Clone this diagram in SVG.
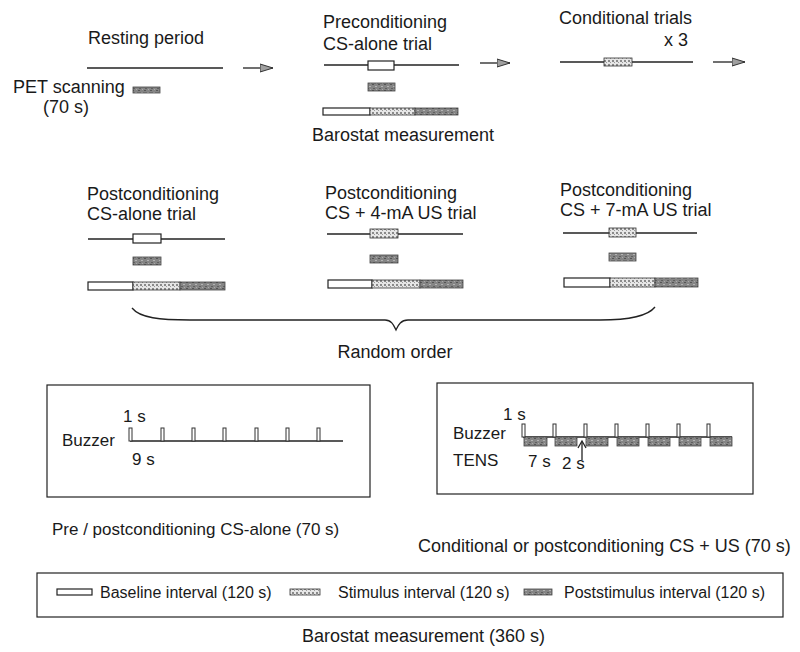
<svg xmlns="http://www.w3.org/2000/svg" width="800" height="652" viewBox="0 0 800 652">
<defs>
<pattern id="stip" width="4" height="4" patternUnits="userSpaceOnUse">
<rect width="4" height="4" fill="#e6e6e6"/>
<rect x="0" y="0" width="2" height="2" fill="#8a8a8a"/>
<rect x="2" y="2" width="1" height="1" fill="#9a9a9a"/>
</pattern>
<pattern id="dark" width="6" height="6" patternUnits="userSpaceOnUse">
<rect width="6" height="6" fill="#858585"/>
<rect x="0" y="0" width="2" height="1" fill="#555"/>
<rect x="3" y="2" width="2" height="1" fill="#b4b4b4"/>
<rect x="1" y="4" width="2" height="1" fill="#606060"/>
<rect x="4" y="5" width="1" height="1" fill="#aaa"/>
</pattern>
<marker id="ah" viewBox="0 0 14 10" refX="13" refY="5" markerWidth="14" markerHeight="10" markerUnits="userSpaceOnUse" orient="auto">
<path d="M0,1 L13,5 L0,9 Z" fill="#a0a0a0" stroke="#333" stroke-width="1"/>
</marker>
</defs>
<style>
text{font-family:"Liberation Sans",Arial,sans-serif;fill:#1a1a1a}
.t{font-size:18px}
.b{font-size:17px}
.s{font-size:16px}
.ln{stroke:#222;stroke-width:1.3;fill:none}
.ob{fill:#fff;stroke:#222;stroke-width:1.2}
.st{fill:url(#stip);stroke:#333;stroke-width:0.8}
.dk{fill:url(#dark);stroke:#444;stroke-width:0.8}
.fr{fill:none;stroke:#222;stroke-width:1.2}
.pu{fill:#fff;stroke:#333;stroke-width:1}
</style>

<g id="resting">
<text class="t" x="88" y="44">Resting period</text>
<line class="ln" x1="87" y1="68" x2="223" y2="68"/>
<text class="t" x="13" y="93">PET scanning</text>
<rect class="dk" x="133" y="87" width="27" height="6"/>
<text class="t" x="43" y="113">(70 s)</text>
</g>

<g id="precond">
<text class="t" x="323" y="28">Preconditioning</text>
<text class="t" x="323" y="50">CS-alone trial</text>
<line class="ln" x1="324" y1="65" x2="459" y2="65"/>
<rect class="ob" x="368" y="61" width="26" height="9"/>
<rect class="dk" x="368" y="83" width="27" height="8"/>
<rect class="ob" x="323" y="108" width="47" height="7"/>
<rect class="st" x="370" y="108" width="45" height="7"/>
<rect class="dk" x="415" y="108" width="43" height="7"/>
<text class="t" x="312" y="141">Barostat measurement</text>
</g>

<g id="conditional">
<text class="t" x="559" y="24">Conditional trials</text>
<text class="t" x="688" y="46" text-anchor="end">x 3</text>
<line class="ln" x1="560" y1="62" x2="693" y2="62"/>
<rect class="st" x="604" y="58" width="28" height="8"/>
</g>

<g id="post-cs">
<text class="t" x="87" y="200">Postconditioning</text>
<text class="t" x="87" y="220">CS-alone trial</text>
<line class="ln" x1="88" y1="239" x2="225" y2="239"/>
<rect class="ob" x="133" y="234" width="28" height="9"/>
<rect class="dk" x="133" y="257" width="28" height="8"/>
<rect class="ob" x="88" y="282" width="45" height="8"/>
<rect class="st" x="133" y="282" width="47" height="8"/>
<rect class="dk" x="180" y="282" width="45" height="8"/>
</g>

<g id="post-4ma">
<text class="t" x="325" y="199">Postconditioning</text>
<text class="t" x="325" y="219">CS + 4-mA US trial</text>
<line class="ln" x1="327" y1="234" x2="463" y2="234"/>
<rect class="st" x="370" y="229" width="28" height="9"/>
<rect class="dk" x="370" y="255" width="28" height="8"/>
<rect class="ob" x="328" y="280" width="44" height="8"/>
<rect class="st" x="372" y="280" width="48" height="8"/>
<rect class="dk" x="420" y="280" width="43" height="8"/>
</g>

<g id="post-7ma">
<text class="t" x="560" y="196">Postconditioning</text>
<text class="t" x="560" y="216">CS + 7-mA US trial</text>
<line class="ln" x1="563" y1="233" x2="697" y2="233"/>
<rect class="st" x="609" y="228" width="27" height="9"/>
<rect class="dk" x="609" y="253" width="27" height="8"/>
<rect class="ob" x="564" y="278" width="46" height="9"/>
<rect class="st" x="610" y="278" width="45" height="9"/>
<rect class="dk" x="655" y="278" width="43" height="9"/>
</g>

<g id="connectors">
<line class="ln" x1="243" y1="68" x2="273" y2="68" marker-end="url(#ah)"/>
<line class="ln" x1="480" y1="63" x2="510" y2="63" marker-end="url(#ah)"/>
<line class="ln" x1="713" y1="62" x2="745" y2="62" marker-end="url(#ah)"/>
<path class="ln" d="M132,308 C140,318 160,320 190,320 L385,320 C392,320 394,326 396,330 C398,326 400,320 408,320 L600,320 C630,320 648,316 655,307"/>
</g>

<g id="random">
<text class="t" x="395" y="358" text-anchor="middle">Random order</text>
</g>

<g id="cs-alone-box">
<rect class="fr" x="47" y="385" width="323" height="112"/>
<text class="b" x="123" y="422">1 s</text>
<text class="b" x="62" y="446">Buzzer</text>
<text class="b" x="132" y="465">9 s</text>
<line class="ln" x1="130" y1="441" x2="343" y2="441"/>
<rect class="pu" x="129" y="428" width="3" height="13"/>
<rect class="pu" x="161" y="428" width="3" height="13"/>
<rect class="pu" x="192" y="428" width="3" height="13"/>
<rect class="pu" x="223" y="428" width="3" height="13"/>
<rect class="pu" x="255" y="428" width="3" height="13"/>
<rect class="pu" x="286" y="428" width="3" height="13"/>
<rect class="pu" x="317" y="428" width="3" height="13"/>
<text class="b" x="52" y="535">Pre / postconditioning CS-alone (70 s)</text>
</g>

<g id="cs-us-box">
<rect class="fr" x="437" y="383" width="316" height="111"/>
<text class="b" x="503" y="420">1 s</text>
<text class="b" x="453" y="439">Buzzer</text>
<text class="b" x="453" y="466">TENS</text>
<text class="b" x="528" y="467">7 s</text>
<text class="b" x="562" y="469">2 s</text>
<line class="ln" x1="523" y1="437" x2="732" y2="437"/>
<rect class="dk" x="524" y="437" width="23" height="9"/>
<rect class="dk" x="555" y="437" width="22" height="9"/>
<rect class="dk" x="586" y="437" width="22" height="9"/>
<rect class="dk" x="617" y="437" width="22" height="9"/>
<rect class="dk" x="648" y="437" width="22" height="9"/>
<rect class="dk" x="679" y="437" width="22" height="9"/>
<rect class="dk" x="710" y="437" width="22" height="9"/>
<rect class="pu" x="522" y="424" width="3" height="13"/>
<rect class="pu" x="553" y="424" width="3" height="13"/>
<rect class="pu" x="584" y="424" width="3" height="13"/>
<rect class="pu" x="615" y="424" width="3" height="13"/>
<rect class="pu" x="646" y="424" width="3" height="13"/>
<rect class="pu" x="677" y="424" width="3" height="13"/>
<rect class="pu" x="707" y="424" width="3" height="13"/>
<line class="ln" x1="582" y1="460" x2="582" y2="442"/>
<path class="ln" d="M578,448 L582,441 L586,448"/>
<text class="t" x="418" y="552">Conditional or postconditioning CS + US (70 s)</text>
</g>

<g id="legend">
<rect class="fr" x="37" y="573" width="746" height="44"/>
<rect class="ob" x="57" y="589" width="35" height="6"/>
<text class="s" x="100" y="598">Baseline interval (120 s)</text>
<rect class="st" x="290" y="589" width="30" height="6"/>
<text class="s" x="338" y="598">Stimulus interval (120 s)</text>
<rect class="dk" x="524" y="589" width="28" height="6"/>
<text class="s" x="564" y="598">Poststimulus interval (120 s)</text>
<text class="t" x="302" y="642">Barostat measurement (360 s)</text>
</g>
</svg>
